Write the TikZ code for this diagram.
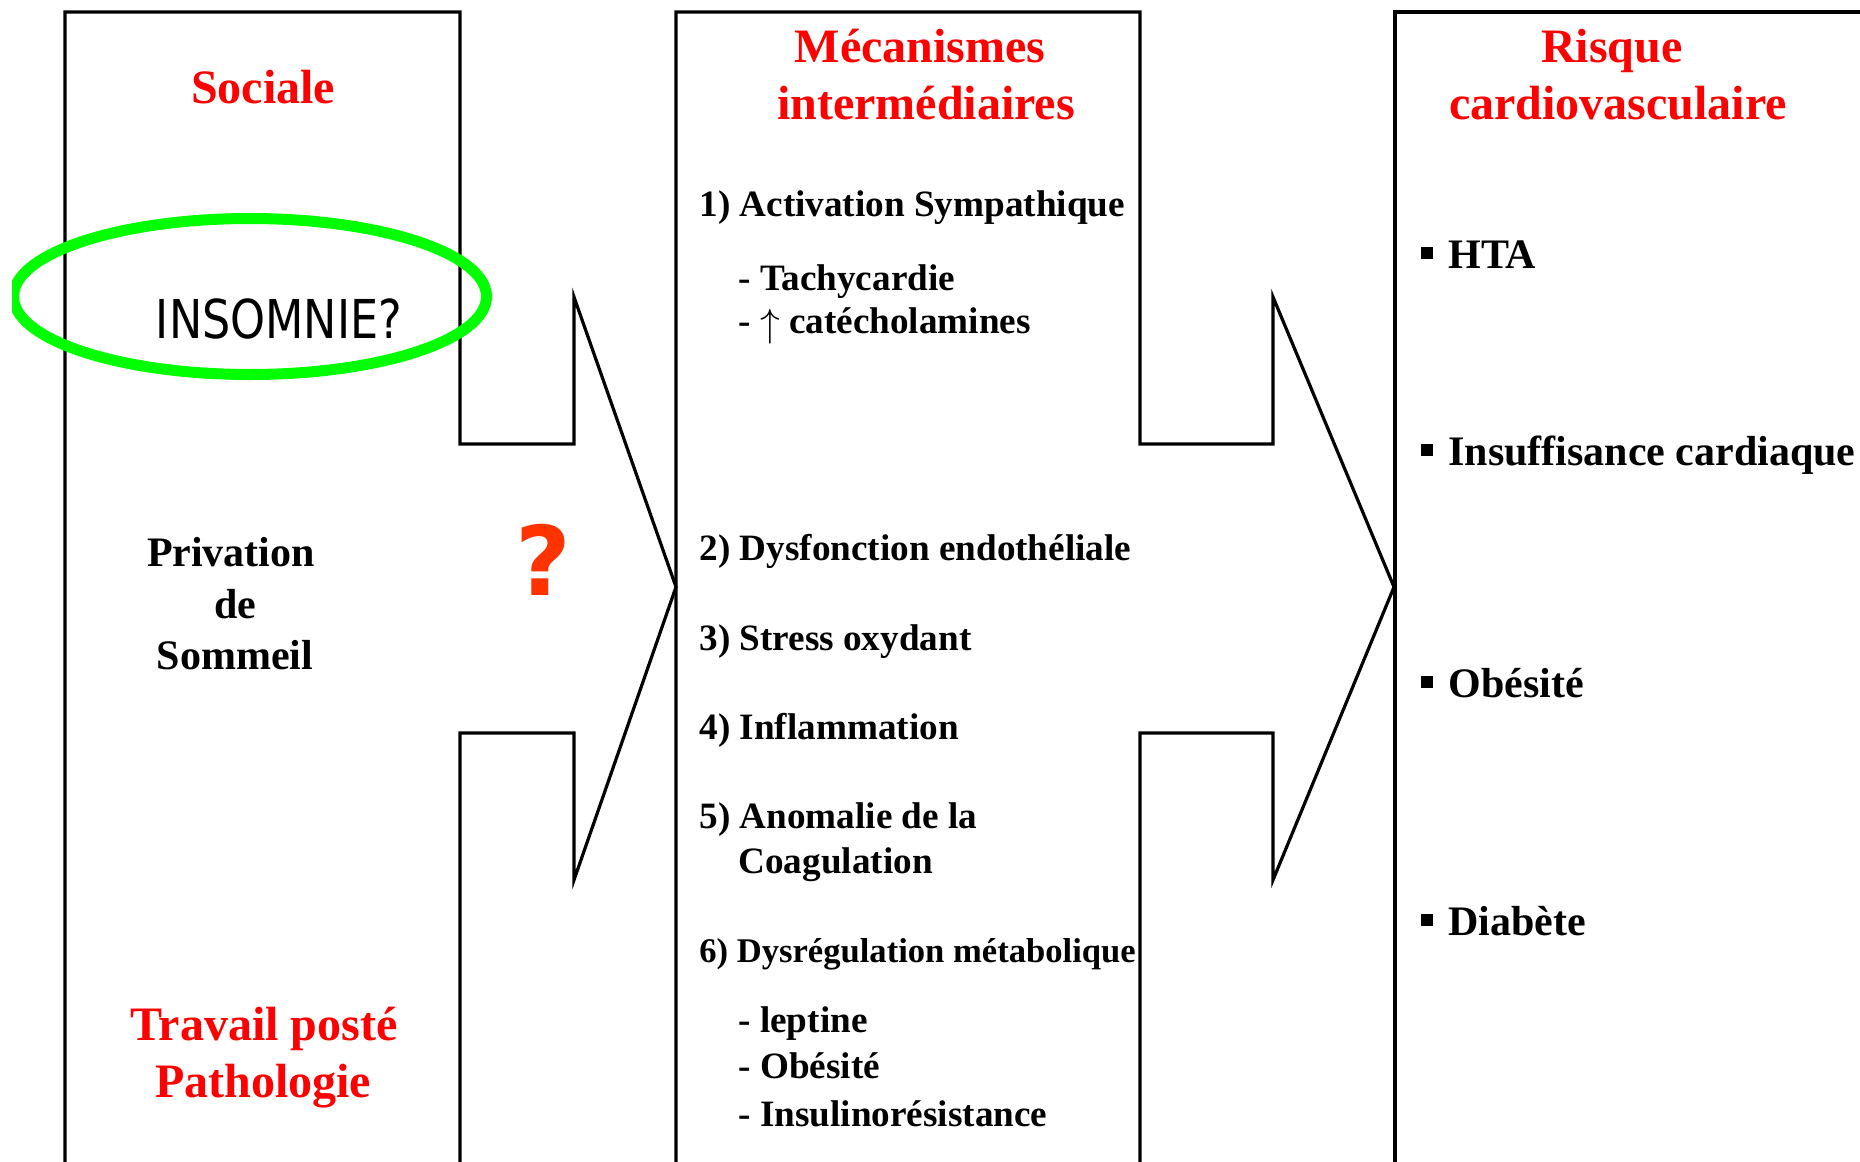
\documentclass[tikz,border=0pt]{standalone}
\usepackage{fontspec}
\setmainfont{Liberation Serif}
\newfontfamily\sansf{DejaVu Sans}
\definecolor{tred}{RGB}{255,0,0}
\definecolor{qorange}{RGB}{255,51,0}
\definecolor{egreen}{RGB}{0,255,0}
\newcommand{\uparr}{\raisebox{-1.5pt}{\resizebox*{!}{17.5pt}{$\uparrow$}}}
\begin{document}
\begin{tikzpicture}[x=0.5pt,y=-0.5pt,
  outline/.style={draw=black,line width=1.6pt,line join=miter},
  title/.style={text=tred,font=\fontsize{24}{28.5}\selectfont\bfseries,anchor=base,inner sep=0pt},
  lefttext/.style={font=\fontsize{21}{25}\selectfont\bfseries,anchor=base,inner sep=0pt},
  item/.style={font=\fontsize{18.6}{22}\selectfont\bfseries,anchor=base west,inner sep=0pt},
  smallitem/.style={font=\fontsize{17.3}{21}\selectfont\bfseries,anchor=base west,inner sep=0pt},
  risk/.style={font=\fontsize{21}{25}\selectfont\bfseries,anchor=base west,inner sep=0pt},
]
\useasboundingbox (0,0) rectangle (1860,1162);
\clip (0,0) rectangle (1860,1162);

% box 1 with arrow
\draw[outline] (65,1175) -- (65,12) -- (460,12) -- (460,444) -- (574,444) -- (574,297)
  -- (676,587) -- (574,880) -- (574,733) -- (460,733) -- (460,1175);
% box 2 with arrow
\draw[outline] (676,1175) -- (676,12) -- (1140,12) -- (1140,444) -- (1273,444) -- (1273,297)
  -- (1394,587) -- (1273,880) -- (1273,733) -- (1140,733) -- (1140,1175);
% box 3
\draw[outline] (1395,1175) -- (1395,12) -- (1875,12);

% green ellipse
\begin{scope}
\clip (12,0) rectangle (1860,1162);
\draw[egreen,line width=5.5pt] (250,296.5) ellipse [x radius=118.25pt, y radius=39pt];
\end{scope}

% left column
\node[title] (sociale) at (263,103) {Sociale};
\node[anchor=base,inner sep=0pt,font=\sansf\fontsize{26.8}{30}\selectfont] (insom) at (279,338) {\scalebox{0.83}[1]{INSOMNIE?}};
\node[lefttext] (priv1) at (231,566) {Privation};
\node[lefttext] (priv2) at (235,618) {de};
\node[lefttext] (priv3) at (235,669) {Sommeil};
\node[title] (trav1) at (264,1040) {Travail posté};
\node[title] (trav2) at (263,1097) {Pathologie};
\node[font=\sansf\bfseries\fontsize{48}{50}\selectfont,text=qorange,inner sep=0pt] (qmark) at (543,560) {?};

% middle column
\node[title] (meca1) at (920,62) {Mécanismes};
\node[title] (meca2) at (926,119) {intermédiaires};
\node[item] (m1) at (699,216) {1) Activation Sympathique};
\node[item] (m1a) at (738,290) {- Tachycardie};
\node[item] (m1b) at (738,333) {- \uparr\ catécholamines};
\node[item] (m2) at (699,560) {2) Dysfonction endothéliale};
\node[item] (m3) at (699,650) {3) Stress oxydant};
\node[item] (m4) at (699,739) {4) Inflammation};
\node[item] (m5) at (699,828) {5) Anomalie de la};
\node[item] (m5b) at (738,873) {Coagulation};
\node[smallitem] (m6) at (699,962) {6) Dysrégulation métabolique};
\node[item] (m6a) at (738,1032) {- leptine};
\node[item] (m6b) at (738,1078) {- Obésité};
\node[item] (m6c) at (738,1126) {- Insulinorésistance};

% right column
\node[title] (risk1) at (1612,62) {Risque};
\node[title] (risk2) at (1618,119) {cardiovasculaire};
\node[risk] (r1) at (1421,268) {\rule[4.75pt]{6pt}{6pt}\hspace{7.5pt}HTA};
\node[risk] (r2) at (1421,465) {\rule[4.75pt]{6pt}{6pt}\hspace{7.5pt}Insuffisance cardiaque};
\node[risk] (r3) at (1421,697) {\rule[4.75pt]{6pt}{6pt}\hspace{7.5pt}Obésité};
\node[risk] (r4) at (1421,935) {\rule[4.75pt]{6pt}{6pt}\hspace{7.5pt}Diabète};
\end{tikzpicture}
\end{document}
